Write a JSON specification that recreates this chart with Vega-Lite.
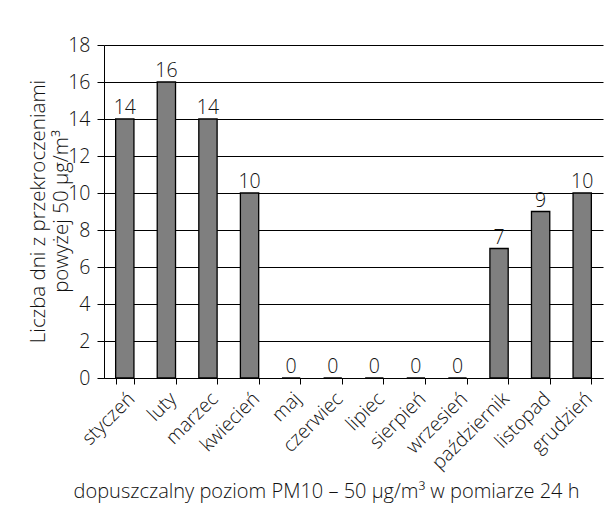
{
  "$schema": "https://vega.github.io/schema/vega-lite/v6.json",
  "width": 499,
  "height": 333,
  "autosize": {"type": "none"},
  "padding": {"left": 104, "top": 45, "right": 12, "bottom": 140},
  "background": "white",
  "config": {
    "font": "Open Sans",
    "view": {"stroke": null},
    "axis": {"labelFont": "Open Sans", "titleFont": "Open Sans", "labelFontWeight": 300, "titleFontWeight": 300, "labelColor": "#111", "titleColor": "#111"}
  },
  "data": {
    "values": [
      {"miesiac": "styczeń", "dni": 14},
      {"miesiac": "luty", "dni": 16},
      {"miesiac": "marzec", "dni": 14},
      {"miesiac": "kwiecień", "dni": 10},
      {"miesiac": "maj", "dni": 0},
      {"miesiac": "czerwiec", "dni": 0},
      {"miesiac": "lipiec", "dni": 0},
      {"miesiac": "sierpień", "dni": 0},
      {"miesiac": "wrzesień", "dni": 0},
      {"miesiac": "październik", "dni": 7},
      {"miesiac": "listopad", "dni": 9},
      {"miesiac": "grudzień", "dni": 10}
    ]
  },
  "encoding": {
    "x": {
      "field": "miesiac",
      "type": "nominal",
      "sort": null,
      "scale": {"paddingInner": 0.56, "paddingOuter": 0.28},
      "axis": {
        "title": "dopuszczalny poziom PM10 – 50 µg/m³ w pomiarze 24 h",
        "titleFontSize": 20,
        "titleX": 222,
        "titleY": 119,
        "titleAlign": "center",
        "titleAnchor": null,
        "titleBaseline": "alphabetic",
        "labelAngle": -45,
        "labelAlign": "right",
        "labelBaseline": "top",
        "labelFontSize": 19.5,
        "labelPadding": 5,
        "tickBand": "extent",
        "tickSize": 6,
        "tickColor": "#000",
        "domainColor": "#000",
        "grid": false
      }
    },
    "y": {
      "field": "dni",
      "type": "quantitative",
      "scale": {"domain": [0, 18], "nice": false},
      "axis": {
        "values": [0, 2, 4, 6, 8, 10, 12, 14, 16, 18],
        "title": ["Liczba dni z przekroczeniami", "powyżej 50 µg/m³"],
        "titleFontSize": 20.5,
        "titleLineHeight": 23,
        "titleAngle": -90,
        "titleX": -66,
        "titleY": 166,
        "titleAlign": "center",
        "titleAnchor": null,
        "titleBaseline": "middle",
        "labelFontSize": 19.5,
        "labelPadding": 7,
        "tickSize": 7,
        "tickColor": "#000",
        "domainColor": "#000",
        "grid": true,
        "gridColor": "#000",
        "gridOpacity": 1
      }
    }
  },
  "layer": [
    {
      "mark": {"type": "bar", "color": "#7f7f7f", "stroke": "#000", "strokeWidth": 1.3}
    },
    {
      "mark": {"type": "text", "baseline": "bottom", "dy": -1, "fontSize": 19.5, "fontWeight": 300, "font": "Open Sans", "color": "#111"},
      "encoding": {"text": {"field": "dni", "type": "quantitative"}}
    }
  ]
}
